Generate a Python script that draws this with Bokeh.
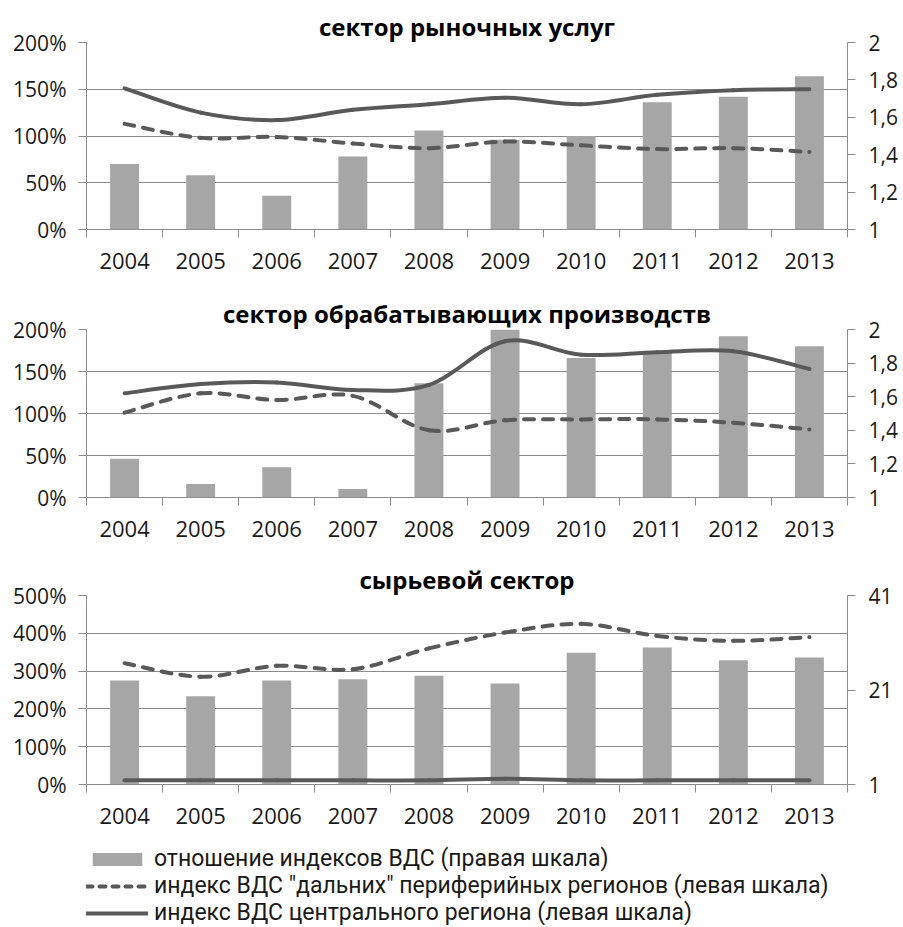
import numpy as np
from bokeh.plotting import figure
from bokeh.layouts import column
from bokeh.models import (Range1d, LinearAxis, FixedTicker, PrintfTickFormatter,
                          CustomJSTickFormatter, Legend, LegendItem, ColumnDataSource)
from bokeh.embed import file_html
from bokeh.resources import INLINE

years = ["2004", "2005", "2006", "2007", "2008", "2009", "2010", "2011", "2012", "2013"]

# сектор рыночных услуг
svc_center = [151, 125, 117, 128, 134, 141, 134, 144, 149, 150]
svc_far = [113, 98, 99, 92, 87, 94, 90, 86, 87, 83]
svc_ratio = [1.35, 1.29, 1.18, 1.39, 1.53, 1.48, 1.50, 1.68, 1.71, 1.82]

# сектор обрабатывающих производств
mfg_center = [124, 135, 137, 128, 134, 186, 170, 173, 174, 153]
mfg_far = [101, 124, 116, 121, 80, 92, 93, 93, 89, 81]
mfg_ratio = [1.23, 1.08, 1.18, 1.05, 1.68, 2.00, 1.83, 1.86, 1.96, 1.90]

# сырьевой сектор
raw_center = [11, 11, 11, 11, 11, 15, 11, 11, 11, 11]
raw_far = [321, 285, 314, 305, 360, 402, 425, 393, 380, 390]
raw_ratio = [23.0, 19.7, 23.0, 23.3, 24.0, 22.4, 28.9, 30.0, 27.3, 27.9]

titles = ["сектор рыночных услуг", "сектор обрабатывающих производств", "сырьевой сектор"]
left_ticks = [[0, 50, 100, 150, 200], [0, 50, 100, 150, 200], [0, 100, 200, 300, 400, 500]]
right_ticks = [[1, 1.2, 1.4, 1.6, 1.8, 2], [1, 1.2, 1.4, 1.6, 1.8, 2], [1, 21, 41]]

labels_legend = ["отношение индексов ВДС (правая шкала)",
                 'индекс ВДС "дальних" периферийных регионов (левая шкала)',
                 "индекс ВДС центрального региона (левая шкала)"]

BAR = "#A6A6A6"
LINE = "#595959"
GRID = "#8C8C8C"
TXT = "#1a1a1a"
FONT = "Open Sans"
DASH = "10 9"

xc = np.arange(len(years)) + 0.5


def bezier_source(xs, ys):
    pts = np.column_stack([xs, np.asarray(ys, dtype=float)])
    n = len(pts)
    d = dict(x0=[], y0=[], x1=[], y1=[], cx0=[], cy0=[], cx1=[], cy1=[])
    for i in range(n - 1):
        p0 = pts[i - 1] if i > 0 else pts[i]
        p1 = pts[i]
        p2 = pts[i + 1]
        p3 = pts[i + 2] if i + 2 < n else pts[i + 1]
        c0 = p1 + (p2 - p0) / 6.0
        c1 = p2 - (p3 - p1) / 6.0
        d["x0"].append(p1[0]); d["y0"].append(p1[1])
        d["x1"].append(p2[0]); d["y1"].append(p2[1])
        d["cx0"].append(c0[0]); d["cy0"].append(c0[1])
        d["cx1"].append(c1[0]); d["cy1"].append(c1[1])
    return ColumnDataSource(d)


def make_panel(title, center, far, ratio, lrange, rrange, lticks, rticks, height, top, bottom):
    p = figure(width=903, height=height, output_backend="svg", toolbar_location=None,
               x_range=Range1d(0, len(years)), y_range=Range1d(*lrange),
               min_border_left=86, min_border_right=56, min_border_top=top,
               min_border_bottom=bottom)
    p.outline_line_color = None
    p.background_fill_color = "white"
    p.border_fill_color = "white"
    p.extra_y_ranges = {"right": Range1d(*rrange)}

    p.title.text = title
    p.title.align = "center"
    p.title.text_font = FONT
    p.title.text_font_style = "bold"
    p.title.text_font_size = "24px"
    p.title.text_color = "#000000"
    p.title.standoff = 0

    # x axis
    xa = p.xaxis[0]
    xa.ticker = FixedTicker(ticks=list(xc), minor_ticks=list(range(len(years) + 1)))
    xa.formatter = CustomJSTickFormatter(args=dict(labels=years),
                                         code="const i = Math.floor(tick); return (i >= 0 && i < labels.length) ? labels[i] : '';")
    xa.major_tick_out = 0
    xa.major_tick_in = 0
    xa.minor_tick_out = 8
    xa.minor_tick_in = 0
    xa.minor_tick_line_color = GRID
    xa.axis_line_color = GRID
    xa.major_label_standoff = 15
    xa.major_label_text_font = FONT
    xa.major_label_text_font_size = "22px"
    xa.major_label_text_color = TXT

    # left axis
    ya = p.yaxis[0]
    ya.ticker = FixedTicker(ticks=lticks)
    ya.formatter = PrintfTickFormatter(format="%d%%")
    ya.major_tick_out = 8
    ya.major_tick_in = 0
    ya.minor_tick_out = 0
    ya.minor_tick_in = 0
    ya.major_tick_line_color = GRID
    ya.axis_line_color = GRID
    ya.major_label_standoff = 12
    ya.major_label_text_font = FONT
    ya.major_label_text_font_size = "21px"
    ya.major_label_text_color = TXT

    # right axis
    ra = LinearAxis(y_range_name="right", ticker=FixedTicker(ticks=rticks),
                    formatter=CustomJSTickFormatter(code="return (Math.round(tick*10)/10).toString().replace('.', ',');"))
    ra.major_tick_out = 8
    ra.major_tick_in = 0
    ra.minor_tick_out = 0
    ra.minor_tick_in = 0
    ra.major_tick_line_color = GRID
    ra.axis_line_color = GRID
    ra.major_label_standoff = 13
    ra.major_label_text_font = FONT
    ra.major_label_text_font_size = "21px"
    ra.major_label_text_color = TXT
    p.add_layout(ra, "right")

    p.xgrid.grid_line_color = None
    p.ygrid.ticker = FixedTicker(ticks=lticks)
    p.ygrid.grid_line_color = GRID
    p.ygrid.grid_line_width = 1

    p.vbar(x=xc, top=ratio, bottom=rrange[0], width=0.38, y_range_name="right",
           fill_color=BAR, line_color=None)
    p.bezier(source=bezier_source(xc, far), x0="x0", y0="y0", x1="x1", y1="y1",
             cx0="cx0", cy0="cy0", cx1="cx1", cy1="cy1",
             line_color=LINE, line_width=4, line_dash=DASH, line_cap="round")
    p.bezier(source=bezier_source(xc, center), x0="x0", y0="y0", x1="x1", y1="y1",
             cx0="cx0", cy0="cy0", cx1="cx1", cy1="cy1",
             line_color=LINE, line_width=4, line_cap="round")
    return p


p1 = make_panel(titles[0], svc_center, svc_far, svc_ratio, (0, 200), (1, 2),
                left_ticks[0], right_ticks[0], 294, 42, 65)
p2 = make_panel(titles[1], mfg_center, mfg_far, mfg_ratio, (0, 200), (1, 2),
                left_ticks[1], right_ticks[1], 266, 34, 63)
p3 = make_panel(titles[2], raw_center, raw_far, raw_ratio, (0, 500), (1, 41),
                left_ticks[2], right_ticks[2], 285, 34, 61)

# legend strip (swatches are drawn by the legend; the glyphs themselves sit outside the visible range)
pl = figure(width=903, height=80, output_backend="svg", toolbar_location=None,
            x_range=Range1d(0, 1), y_range=Range1d(0, 1),
            x_axis_location=None, y_axis_location=None,
            min_border_left=72, min_border_right=0, min_border_top=0, min_border_bottom=0)
pl.outline_line_color = None
pl.xgrid.grid_line_color = None
pl.ygrid.grid_line_color = None
lb = pl.vbar(x=[5], top=[6], bottom=[5], width=0.1, fill_color=BAR, line_color=None)
lf = pl.line(x=[5, 6], y=[5, 5], line_color=LINE, line_width=4, line_dash="6 7", line_cap="round")
lc = pl.line(x=[5, 6], y=[5, 5], line_color=LINE, line_width=4, line_cap="round")

legend = Legend(items=[LegendItem(label=labels_legend[0], renderers=[lb]),
                       LegendItem(label=labels_legend[1], renderers=[lf]),
                       LegendItem(label=labels_legend[2], renderers=[lc])],
                location="top_left", orientation="vertical")
legend.border_line_color = None
legend.background_fill_alpha = 0
legend.padding = 0
legend.margin = 0
legend.spacing = 0
legend.glyph_width = 62
legend.glyph_height = 16
legend.label_standoff = 6
legend.label_height = 22
legend.label_width = 700
legend.label_text_font = "Roboto"
legend.label_text_font_size = "23px"
legend.label_text_color = TXT
legend.label_text_baseline = "middle"
pl.add_layout(legend, "center")

layout = column(p1, p2, p3, pl, spacing=0)

with open("out.html", "w") as f:
    f.write(file_html(layout, INLINE))
